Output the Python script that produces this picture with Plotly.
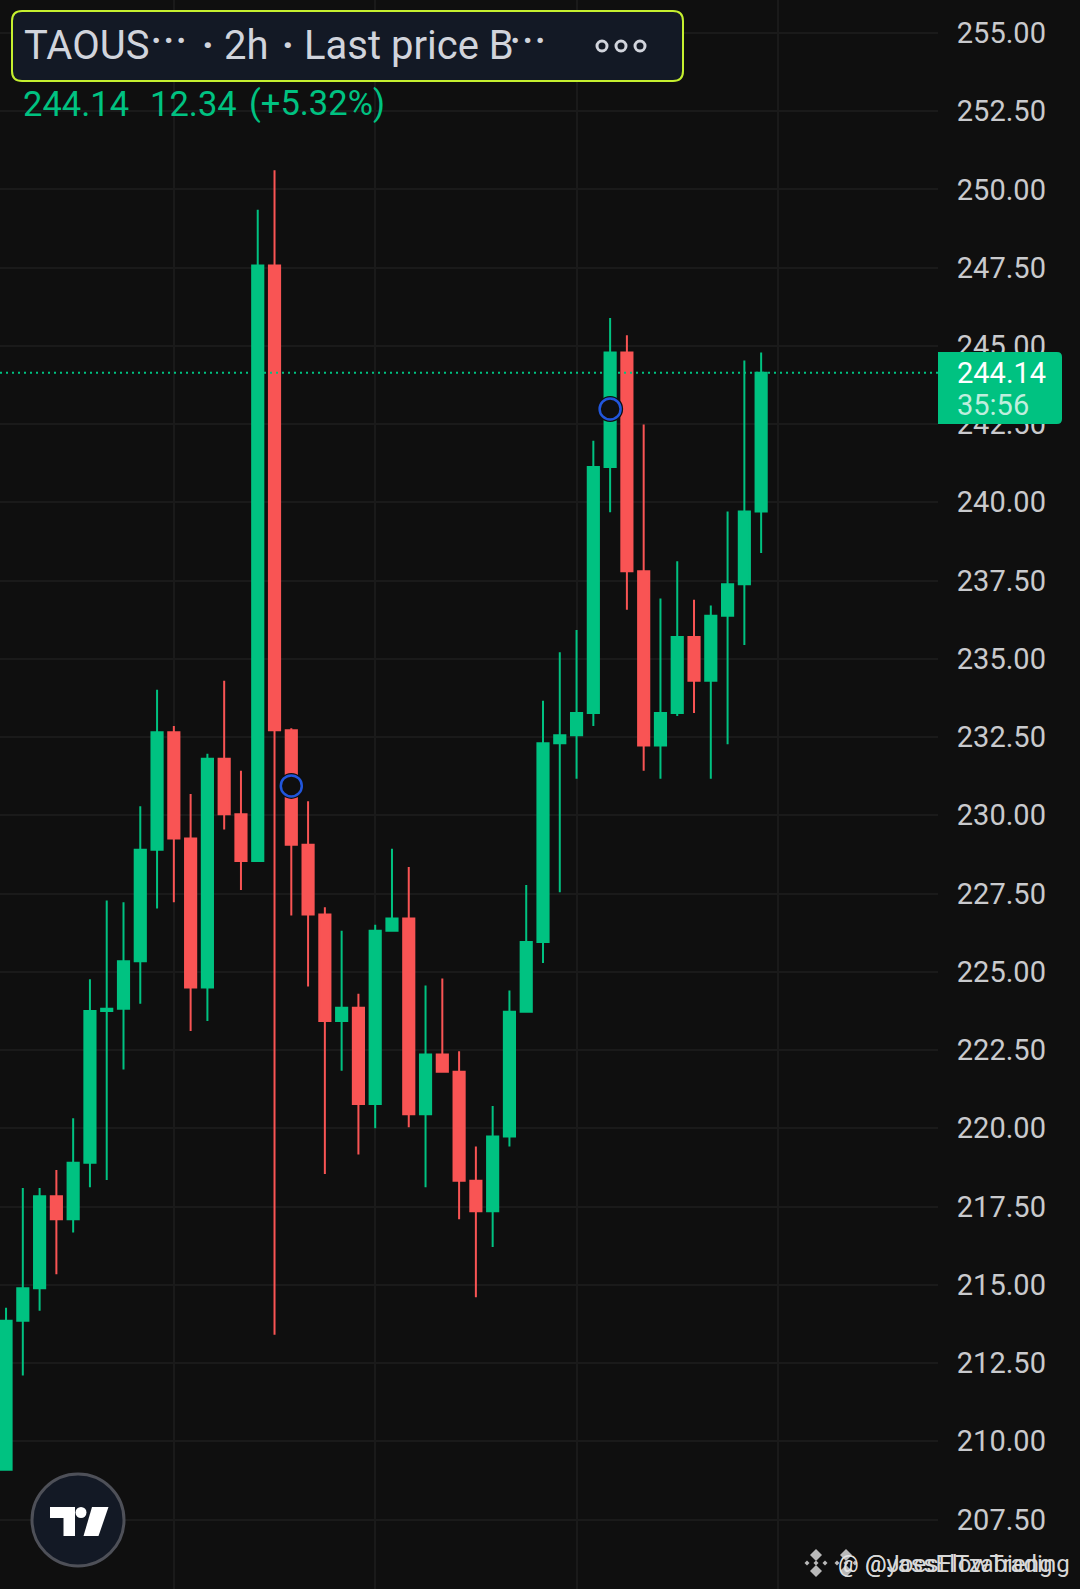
import plotly.graph_objects as go

W, H = 1080, 1589

# prices, one per candle
opens = [209.09, 213.85, 214.89, 217.83, 217.09, 218.90, 223.75, 223.82, 225.34, 228.90,
         232.65, 229.26, 224.50, 231.81, 230.03, 228.54, 247.57, 232.72, 229.06, 226.83,
         223.43, 223.85, 220.78, 226.31, 226.70, 220.45, 222.36, 221.81, 218.32, 217.35,
         219.74, 223.72, 225.95, 232.30, 232.56, 233.27, 241.13, 244.79, 237.80, 232.23,
         233.27, 235.70, 234.30, 236.38, 237.38, 239.71]
closes = [213.85, 214.89, 217.83, 217.09, 218.90, 223.75, 223.82, 225.34, 228.90, 232.65,
          229.26, 224.50, 231.81, 230.03, 228.54, 247.57, 232.72, 229.06, 226.83, 223.43,
          223.85, 220.78, 226.31, 226.70, 220.45, 222.36, 221.81, 218.32, 217.35, 219.74,
          223.72, 225.95, 232.30, 232.56, 233.27, 241.13, 244.79, 237.80, 232.23, 233.27,
          235.70, 234.30, 236.38, 237.38, 239.71, 244.14]
highs = [214.27, 218.09, 218.09, 218.67, 220.32, 224.76, 227.28, 227.22, 230.29, 234.01,
         232.85, 230.68, 231.97, 234.30, 231.42, 249.35, 250.61, 232.78, 230.45, 227.06,
         226.31, 224.30, 226.50, 228.93, 228.35, 224.56, 224.79, 222.46, 219.42, 220.71,
         224.40, 227.77, 233.66, 235.21, 235.92, 241.97, 245.89, 245.34, 242.49, 236.93,
         238.12, 236.89, 236.70, 239.71, 244.53, 244.79]
lows = [209.09, 212.10, 214.17, 215.34, 216.67, 218.12, 218.35, 221.88, 223.98, 227.02,
        227.22, 223.11, 223.43, 229.55, 227.61, 228.54, 213.40, 226.80, 224.53, 218.54,
        221.84, 219.16, 220.00, 226.31, 220.03, 218.12, 221.81, 217.09, 214.60, 216.21,
        219.42, 223.72, 225.28, 227.54, 231.17, 232.85, 239.68, 236.57, 231.42, 231.17,
        233.17, 233.27, 231.17, 232.27, 235.44, 238.38]
candle_idx = list(range(len(opens)))

signal_idx = [17, 36]
signal_price = [230.94, 242.98]
last_price = 244.14

price_ticks = [205 + 2.5 * n for n in range(21)]
price_labels = [f"{t:.2f}" for t in price_ticks]
grid_idx = [10, 22, 34, 46]

GREEN = "#00C281"
RED = "#F95454"
BG = "#0F0F0F"
GRID = "#1A1A1A"
TEXT = "#D1D4DC"
TICK = "#C9CACD"
FONT = "Roboto"


def px(x):
    return x / W


def py(y):
    return 1 - y / H


def poly(points, color):
    """Filled polygon from pixel points, in paper coordinates."""
    d = "M " + " L ".join(f"{px(x)} {py(y)}" for x, y in points) + " Z"
    return dict(type="path", xref="paper", yref="paper", layer="above", path=d,
                fillcolor=color, line=dict(width=0))


def box_path(x0, y0, x1, y1, r):
    """Rounded box in paper coordinates, from pixel corners."""
    return (
        f"M {px(x0 + r)} {py(y0)} L {px(x1 - r)} {py(y0)} "
        f"Q {px(x1)} {py(y0)} {px(x1)} {py(y0 + r)} L {px(x1)} {py(y1 - r)} "
        f"Q {px(x1)} {py(y1)} {px(x1 - r)} {py(y1)} L {px(x0 + r)} {py(y1)} "
        f"Q {px(x0)} {py(y1)} {px(x0)} {py(y1 - r)} L {px(x0)} {py(y0 + r)} "
        f"Q {px(x0)} {py(y0)} {px(x0 + r)} {py(y0)} Z"
    )


def tag_path(x0, y0, x1, y1, r):
    """Price tag: square on the left, round on the right."""
    return (
        f"M {px(x0)} {py(y0)} L {px(x1 - r)} {py(y0)} "
        f"Q {px(x1)} {py(y0)} {px(x1)} {py(y0 + r)} L {px(x1)} {py(y1 - r)} "
        f"Q {px(x1)} {py(y1)} {px(x1 - r)} {py(y1)} L {px(x0)} {py(y1)} Z"
    )


def circle(cx, cy, r, **kw):
    return dict(type="circle", xref="paper", yref="paper", layer="above",
                x0=px(cx - r), x1=px(cx + r), y0=py(cy + r), y1=py(cy - r), **kw)


def diamond(cx, cy, r, color):
    return poly([(cx, cy - r), (cx + r, cy), (cx, cy + r), (cx - r, cy)], color)


def binance(cx, cy, color):
    out = []
    for dx, dy, r in [(0, -8, 6), (0, 8, 6), (-9, 0, 2.5), (9, 0, 2.5), (0, 0, 2.5)]:
        out.append(diamond(cx + dx, cy + dy, r, color))
    return out


def label(x, y, text, size, color, weight=400, anchor="left"):
    return dict(xref="paper", yref="paper", x=px(x), y=py(y), text=text, showarrow=False,
                xanchor=anchor, yanchor="middle", align="left",
                font=dict(family=FONT, size=size, color=color, weight=weight))


fig = go.Figure()
fig.add_trace(go.Candlestick(
    x=candle_idx, open=opens, high=highs, low=lows, close=closes,
    increasing=dict(line=dict(color=GREEN, width=2), fillcolor=GREEN),
    decreasing=dict(line=dict(color=RED, width=2), fillcolor=RED),
    whiskerwidth=0, hoverinfo="skip",
))
# halo and ring for the two signal marks
fig.add_trace(go.Scatter(
    x=signal_idx, y=signal_price, mode="markers", hoverinfo="skip",
    marker=dict(size=26, color=BG, line=dict(width=0)),
))
fig.add_trace(go.Scatter(
    x=signal_idx, y=signal_price, mode="markers", hoverinfo="skip",
    marker=dict(size=21, color=BG, line=dict(color="#2156DC", width=2.5)),
))

shapes = [
    # last price line
    dict(type="line", xref="x", yref="y", x0=-0.36, x1=55.54, y0=last_price, y1=last_price,
         layer="above", line=dict(color=GREEN, width=2, dash="2px,4px")),
    # price tag
    dict(type="path", xref="paper", yref="paper", layer="above", path=tag_path(938, 352, 1062, 424, 5),
         fillcolor=GREEN, line=dict(width=0)),
    # header box
    dict(type="path", xref="paper", yref="paper", layer="above", path=box_path(12, 11, 683, 81, 10),
         fillcolor="#131925", line=dict(color="#C5F02F", width=2)),
    circle(602, 46, 5, line=dict(color=TEXT, width=3)),
    circle(621, 46, 5, line=dict(color=TEXT, width=3)),
    circle(640, 46, 5, line=dict(color=TEXT, width=3)),
    # logo button
    circle(78, 1520, 46, fillcolor="#131925", line=dict(color="#4E5058", width=3)),
    poly([(50, 1507), (75, 1507), (75, 1536), (63.5, 1536), (63.5, 1518), (50, 1518)], "#FFFFFF"),
    circle(81, 1512.5, 5.5, fillcolor="#FFFFFF", line=dict(width=0)),
    poly([(92, 1507), (108.5, 1507), (98.5, 1536), (83.5, 1536)], "#FFFFFF"),
] + binance(816, 1563, "#B9B9B9") + binance(846, 1563, "#B9B9B9")

annotations = [
    label(22, 45, "TAOUS", 40, TEXT),
    label(148, 42, "···", 48, TEXT),
    label(200, 45, "·", 39, TEXT, 700),
    label(222, 45, "2h", 40, TEXT),
    label(280, 45, "·", 39, TEXT, 700),
    label(302, 45, "Last price B", 40, TEXT),
    label(507, 42, "···", 48, TEXT),
    label(21, 104, "244.14", 34.5, GREEN),
    label(148, 104, "12.34", 34.5, GREEN),
    label(247, 104, "(+5.32%)", 34.5, GREEN),
    label(955, 373, "244.14", 29, "#FFFFFF"),
    label(955, 405, "35:56", 29, "#BFEEDD"),
    label(955, 1600, "205.00", 29, TICK),
    # two watermarks lying on top of each other
    label(863, 1564, "@JoesFlowTrading", 24, "#D8D8D8"),
    label(863, 1564, "@yassElTzabieng", 24, "#D8D8D8"),
    label(836, 1564, "@", 23, "#E4E4E4"),
]

fig.update_layout(
    width=W, height=H, autosize=False,
    margin=dict(l=0, r=0, t=0, b=0),
    paper_bgcolor=BG, plot_bgcolor=BG,
    showlegend=False, boxgap=0.05,
    shapes=shapes, annotations=annotations,
    font=dict(family=FONT),
)
fig.update_xaxes(
    domain=[0, 938 / W], range=[-0.36, 55.54], rangeslider_visible=False,
    tickmode="array", tickvals=grid_idx, showticklabels=False, ticks="",
    showgrid=True, gridcolor=GRID, gridwidth=2, zeroline=False, showline=False,
)
fig.update_yaxes(
    domain=[0, 1], range=[205.28, 256.05], side="right",
    tickmode="array", tickvals=price_ticks, ticktext=price_labels,
    tickfont=dict(family=FONT, size=29, color=TICK),
    ticks="outside", ticklen=12, tickcolor="rgba(0,0,0,0)",
    showgrid=True, gridcolor=GRID, gridwidth=2, zeroline=False, showline=False,
)

# the page's default body margin would shift the chart
fig.write_html("out.html", config=dict(displayModeBar=False),
               post_script="document.body.style.margin='0';document.body.style.background='#0F0F0F';")
